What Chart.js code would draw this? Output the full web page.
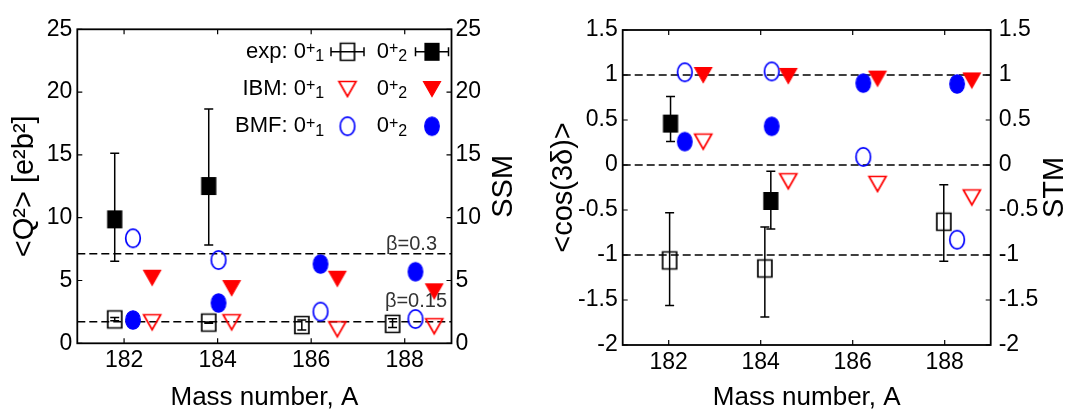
<!DOCTYPE html>
<html>
<head>
<meta charset="utf-8">
<script src="https://cdn.jsdelivr.net/npm/chart.js@4.4.1/dist/chart.umd.min.js"></script>
<style>
  html, body { margin: 0; background: #fff; }
  canvas { position: absolute; top: 0; }
</style>
</head>
<body>
<canvas id="q2Chart" width="535" height="413" style="left:0"></canvas>
<canvas id="cosChart" width="536" height="413" style="left:535px"></canvas>
<script>
// x positions are shifted a little per series, like in the original figure
const masses = [182, 184, 186, 188];

// <Q2> panel
const q2ExpX   = [181.8, 183.81, 185.8, 187.74];
const q2Exp1   = [1.9, 1.65, 1.45, 1.55];
const q2Exp1Lo = [1.8, 1.6, 1.05, 1.25];
const q2Exp1Hi = [2.05, 1.7, 1.85, 1.95];
const q2Exp2   = [9.87, 12.52, null, null];
const q2Exp2Lo = [6.53, 7.83, null, null];
const q2Exp2Hi = [15.13, 18.65, null, null];
const q2BmfX   = [182.19, 184.02, 186.2, 188.23];
const q2Bmf1   = [8.36, 6.63, 2.52, 1.93];
const q2Bmf2   = [1.86, 3.21, 6.31, 5.7];
const q2IbmX   = [182.6, 184.3, 186.56, 188.63];
const q2Ibm1   = [1.68, 1.68, 1.12, 1.36];
const q2Ibm2   = [5.22, 4.4, 5.14, 4.14];
const q2Beta   = [7.13, 1.72];
const q2BetaLabels = ['β=0.3', 'β=0.15'];
const q2Ticks  = [0, 5, 10, 15, 20, 25];

// <cos(3delta)> panel
const cosExp1X  = [182.02, 184.09, null, 187.98];
const cosExp1   = [-1.06, -1.15, null, -0.63];
const cosExp1Lo = [-1.56, -1.69, null, -1.07];
const cosExp1Hi = [-0.53, -0.69, null, -0.22];
const cosExp2X  = [182.04, 184.22, null, null];
const cosExp2   = [0.46, -0.40, null, null];
const cosExp2Lo = [0.26, -0.71, null, null];
const cosExp2Hi = [0.76, -0.07, null, null];
const cosBmfX   = [182.35, 184.24, 186.23, 188.27];
const cosBmf1   = [1.03, 1.04, 0.09, -0.83];
const cosBmf2   = [0.26, 0.43, 0.91, 0.90];
const cosIbmX   = [182.75, 184.6, 186.54, 188.59];
const cosIbm1   = [0.26, -0.18, -0.21, -0.36];
const cosIbm2   = [1.0, 0.99, 0.96, 0.94];
const cosRef    = [1, 0, -1];
const cosTicks  = [-2, -1.5, -1, -0.5, 0, 0.5, 1, 1.5];

const legendNames = ['exp:', 'IBM:', 'BMF:'];

const FONT = '"Liberation Sans", Arial, Helvetica, sans-serif';

// markers in the figure are a bit taller than wide, so draw them as small images
function marker(shape, color, filled) {
    const c = document.createElement('canvas');
    c.width = 22; c.height = 24;
    const g = c.getContext('2d');
    g.lineWidth = filled ? 1.2 : 1.7;
    g.strokeStyle = color;
    g.fillStyle = color;
    g.beginPath();
    if (shape === 'square') g.rect(4, 3.5, 14, 17);
    else if (shape === 'circle') g.ellipse(11, 12, 7.3, 9.2, 0, 0, Math.PI * 2);
    else { g.moveTo(2.5, 4.5); g.lineTo(19.5, 4.5); g.lineTo(11, 19.5); g.closePath(); }
    if (filled) g.fill();
    g.stroke();
    return c;
}
const marks = {
    exp1: marker('square', '#000', false),
    exp2: marker('square', '#000', true),
    ibm1: marker('tri', '#ff0000', false),
    ibm2: marker('tri', '#ff0000', true),
    bmf1: marker('circle', '#0000ff', false),
    bmf2: marker('circle', '#0000ff', true)
};

function pts(xs, ys, lo, hi) {
    const out = [];
    ys.forEach((y, i) => {
        if (y === null) return;
        const p = { x: xs[i], y: y };
        if (lo) { p.lo = lo[i]; p.hi = hi[i]; }
        out.push(p);
    });
    return out;
}

function series(label, data, mark) {
    return { label: label, data: data, pointStyle: marks[mark], pointRadius: 8, pointHoverRadius: 8, showLine: false };
}

//plugins

const refLines = {
    id: 'refLines',
    beforeDatasetsDraw(chart, args, opts) {
        const { ctx, chartArea: a } = chart;
        const y = chart.scales.y;
        ctx.save();
        ctx.strokeStyle = '#000';
        ctx.lineWidth = 1.5;
        ctx.setLineDash([8, 4]);
        opts.values.forEach((v, i) => {
            const py = y.getPixelForValue(v);
            ctx.beginPath();
            ctx.moveTo(a.left, py);
            ctx.lineTo(a.right, py);
            ctx.stroke();
            if (opts.labels && opts.labels[i]) {
                ctx.font = '20px ' + FONT;
                ctx.fillStyle = '#333';
                ctx.textAlign = 'right';
                ctx.textBaseline = 'alphabetic';
                ctx.fillText(opts.labels[i], a.right + opts.dx[i], py + opts.dy[i]);
            }
        });
        ctx.restore();
    }
};

const errorBars = {
    id: 'errorBars',
    beforeDatasetsDraw(chart) {
        const { ctx } = chart;
        const xs = chart.scales.x, ys = chart.scales.y;
        ctx.save();
        ctx.strokeStyle = '#000';
        ctx.lineWidth = 1.5;
        chart.data.datasets.forEach(ds => {
            ds.data.forEach(p => {
                if (p.lo === undefined) return;
                const x = xs.getPixelForValue(p.x);
                const lo = ys.getPixelForValue(p.lo), hi = ys.getPixelForValue(p.hi);
                ctx.beginPath();
                ctx.moveTo(x, lo); ctx.lineTo(x, hi);
                ctx.moveTo(x - 4.5, lo); ctx.lineTo(x + 4.5, lo);
                ctx.moveTo(x - 4.5, hi); ctx.lineTo(x + 4.5, hi);
                ctx.stroke();
            });
        });
        ctx.restore();
    }
};

// box around the plot, ticks pointing inward, and the right-hand title
const frame = {
    id: 'frame',
    afterDatasetsDraw(chart, args, opts) {
        const { ctx, chartArea: a } = chart;
        const xs = chart.scales.x, ys = chart.scales.y;
        ctx.save();
        ctx.strokeStyle = '#000';
        ctx.lineWidth = 1.2;
        ctx.beginPath();
        xs.ticks.forEach(t => {
            const px = xs.getPixelForValue(t.value);
            ctx.moveTo(px, a.bottom); ctx.lineTo(px, a.bottom - 5);
            ctx.moveTo(px, a.top); ctx.lineTo(px, a.top + 5);
        });
        ys.ticks.forEach(t => {
            const py = ys.getPixelForValue(t.value);
            ctx.moveTo(a.left, py); ctx.lineTo(a.left + 5, py);
            ctx.moveTo(a.right, py); ctx.lineTo(a.right - 5, py);
        });
        ctx.stroke();
        ctx.lineWidth = 1.8;
        ctx.strokeRect(a.left, a.top, a.right - a.left, a.bottom - a.top);

        ctx.translate(a.right + opts.dx, (a.top + a.bottom) / 2);
        ctx.rotate(-Math.PI / 2);
        ctx.font = '29px ' + FONT;
        ctx.fillStyle = '#000';
        ctx.textAlign = 'center';
        ctx.textBaseline = 'middle';
        ctx.fillText(opts.text, 0, 0);
        ctx.restore();
    }
};

function stateText(ctx, x, y, pre, sub) {
    ctx.font = '22px ' + FONT;
    ctx.textAlign = 'right';
    ctx.fillText(pre + '0', x, y);
    ctx.textAlign = 'left';
    ctx.font = '16px ' + FONT;
    ctx.fillText('+', x, y - 3);
    ctx.fillText(sub, x + ctx.measureText('+').width, y + 5);
}

const stateLegend = {
    id: 'stateLegend',
    afterDraw(chart, args, opts) {
        if (!opts.show) return;
        const { ctx, chartArea: a } = chart;
        ctx.save();
        ctx.fillStyle = '#000';
        ctx.textBaseline = 'middle';
        ctx.strokeStyle = '#000';
        ctx.lineWidth = 1.5;
        const keys = [['exp1', 'exp2'], ['ibm1', 'ibm2'], ['bmf1', 'bmf2']];
        legendNames.forEach((name, r) => {
            const y = a.top + 22.5 + r * 37.2;
            const x1 = a.right - 145.5;
            stateText(ctx, x1, y, name + ' ', '1');
            ctx.font = '22px ' + FONT;
            const x2 = a.right - 74.8 + ctx.measureText('0').width;
            stateText(ctx, x2, y, '', '2');
            [a.right - 104, a.right - 19.5].forEach((mx, k) => {
                if (r === 0) {
                    ctx.beginPath();
                    ctx.moveTo(mx - 16.5, y); ctx.lineTo(mx + 16.5, y);
                    ctx.moveTo(mx - 16.5, y - 4.5); ctx.lineTo(mx - 16.5, y + 4.5);
                    ctx.moveTo(mx + 16.5, y - 4.5); ctx.lineTo(mx + 16.5, y + 4.5);
                    ctx.stroke();
                }
                const img = marks[keys[r][k]];
                ctx.drawImage(img, mx - img.width / 2, y - img.height / 2);
            });
        });
        ctx.restore();
    }
};

function xAxis(height) {
    return {
        type: 'linear', min: 181, max: 189,
        afterBuildTicks: s => { s.ticks = masses.map(v => ({ value: v })); },
        afterFit: s => { s.height = height; },
        grid: { display: false, drawTicks: false },
        border: { display: false },
        ticks: { padding: 4, color: '#000', font: { family: FONT, size: 23 }, callback: v => String(v) },
        title: { display: true, text: 'Mass number, A', color: '#000', font: { family: FONT, size: 26 }, padding: { top: 0, bottom: 0 } }
    };
}

function yAxis(pos, min, max, tickList, width, pad, title, titlePad) {
    return {
        type: 'linear', position: pos, min: min, max: max,
        afterBuildTicks: s => { s.ticks = tickList.map(v => ({ value: v })); },
        afterFit: s => { s.width = width; },
        grid: { display: false, drawTicks: false },
        border: { display: false },
        ticks: { padding: pad, color: '#000', font: { family: FONT, size: 23 }, callback: v => String(v) },
        title: { display: !!title, text: title, color: '#000', font: { family: FONT, size: 29 }, padding: { top: titlePad, bottom: 0 } }
    };
}

//<Q2>

const ctxQ2 = document.getElementById('q2Chart').getContext('2d');
const q2Chart = new Chart(ctxQ2, {
    type: 'scatter',
    data: {
        datasets: [
            series('exp 0+1', pts(q2ExpX, q2Exp1, q2Exp1Lo, q2Exp1Hi), 'exp1'),
            series('exp 0+2', pts(q2ExpX, q2Exp2, q2Exp2Lo, q2Exp2Hi), 'exp2'),
            series('IBM 0+1', pts(q2IbmX, q2Ibm1), 'ibm1'),
            series('IBM 0+2', pts(q2IbmX, q2Ibm2), 'ibm2'),
            series('BMF 0+1', pts(q2BmfX, q2Bmf1), 'bmf1'),
            series('BMF 0+2', pts(q2BmfX, q2Bmf2), 'bmf2')
        ]
    },
    options: {
        responsive: false,
        animation: false,
        layout: { padding: { top: 29.3, left: 0, right: 0, bottom: 0 } },
        scales: {
            x: xAxis(69.7),
            y: yAxis('left', 0, 25, q2Ticks, 77.3, 5, '<Q²> [e²b²]', 7.6),
            ySSM: yAxis('right', 0, 25, q2Ticks, 83.5, 4, '', 0)
        },
        plugins: {
            legend: { display: false },
            tooltip: { enabled: false },
            refLines: { values: q2Beta, labels: q2BetaLabels, dx: [-14.5, -4.5], dy: [-4, -15] },
            frame: { text: 'SSM', dx: 52 },
            stateLegend: { show: true }
        }
    },
    plugins: [refLines, errorBars, frame, stateLegend]
});

//<cos(3d)>

const ctxCos = document.getElementById('cosChart').getContext('2d');
const cosChart = new Chart(ctxCos, {
    type: 'scatter',
    data: {
        datasets: [
            series('exp 0+1', pts(cosExp1X, cosExp1, cosExp1Lo, cosExp1Hi), 'exp1'),
            series('exp 0+2', pts(cosExp2X, cosExp2, cosExp2Lo, cosExp2Hi), 'exp2'),
            series('IBM 0+1', pts(cosIbmX, cosIbm1), 'ibm1'),
            series('IBM 0+2', pts(cosIbmX, cosIbm2), 'ibm2'),
            series('BMF 0+1', pts(cosBmfX, cosBmf1), 'bmf1'),
            series('BMF 0+2', pts(cosBmfX, cosBmf2), 'bmf2')
        ]
    },
    options: {
        responsive: false,
        animation: false,
        layout: { padding: { top: 30, left: 0, right: 0, bottom: 0 } },
        scales: {
            x: xAxis(68),
            y: yAxis('left', -2, 1.5, cosTicks, 87.7, 5, '<cos(3δ)>', 12),
            ySTM: yAxis('right', -2, 1.5, cosTicks, 80.3, 8, '', 0)
        },
        plugins: {
            legend: { display: false },
            tooltip: { enabled: false },
            refLines: { values: cosRef },
            frame: { text: 'STM', dx: 64 },
            stateLegend: { show: false }
        }
    },
    plugins: [refLines, errorBars, frame, stateLegend]
});
</script>
</body>
</html>
